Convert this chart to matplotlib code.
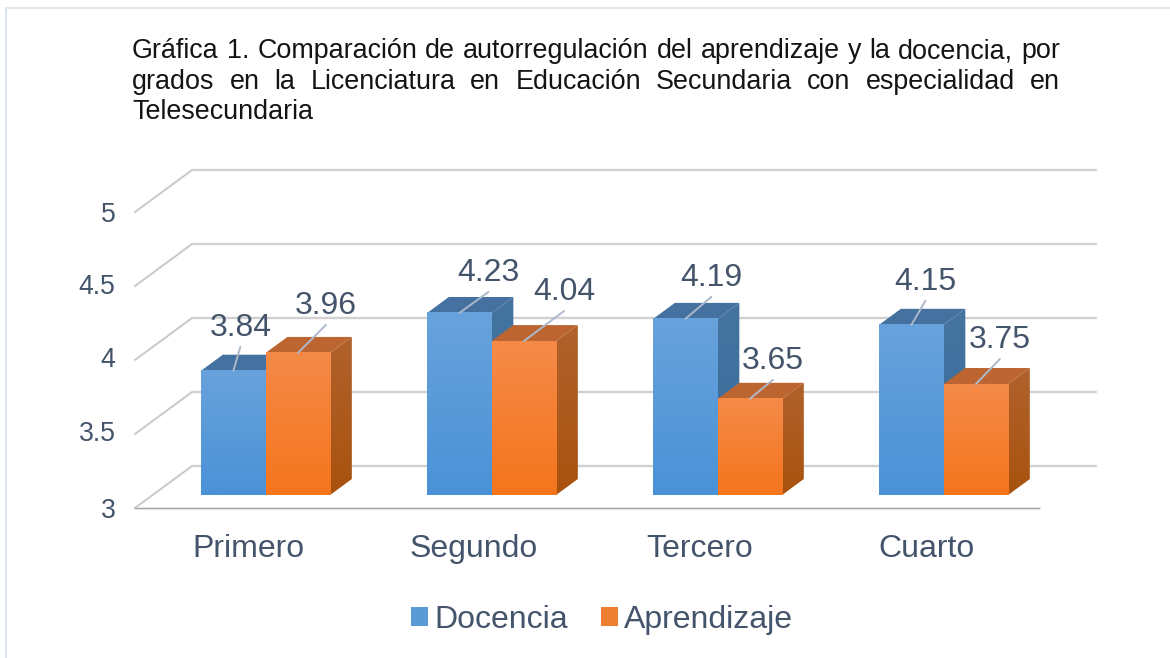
import matplotlib
matplotlib.use("Agg")
import matplotlib.pyplot as plt
from matplotlib.lines import Line2D
from matplotlib.patches import Patch, Polygon
from matplotlib.transforms import ScaledTranslation
import numpy as np

plt.rcParams["font.family"] = ["Liberation Sans", "DejaVu Sans"]

grados = ["Primero", "Segundo", "Tercero", "Cuarto"]
docencia = [3.84, 4.23, 4.19, 4.15]
aprendizaje = [3.96, 4.04, 3.65, 3.75]
y_ticks = [3, 3.5, 4, 4.5, 5]
y_labels = ["3", "3.5", "4", "4.5", "5"]
titulo = [
    "Gráfica 1. Comparación de autorregulación del aprendizaje y la docencia, por",
    "grados en la Licenciatura en Educación Secundaria con especialidad en",
    "Telesecundaria",
]

W, H = 1170, 658
TXT = "#44546a"
# profundidad del piso 3D, en unidades de datos
DX = 57 / 226
DY = 42 / 148
BAR_W = 64.5 / 226
F0, F1 = 0.31, 0.69


def pt(x, y, d):
    return (x + DX * d, y + DY * d)


def rgb(c):
    return np.array(matplotlib.colors.to_rgb(c))


def gradiente(arriba, abajo):
    t = np.linspace(0, 1, 64).reshape(-1, 1, 1)
    return rgb(arriba)[None, None, :] * (1 - t) + rgb(abajo)[None, None, :] * t


fig = plt.figure(figsize=(W / 100, H / 100), dpi=100)
ax = fig.add_axes([135 / W, (H - 508) / H, 904 / W, 296 / H])
for s in ax.spines.values():
    s.set_visible(False)
ax.patch.set_alpha(0)

# marco exterior: solo arriba y a la izquierda
fig.add_artist(Line2D([6 / W, 6 / W, 1], [0, 1 - 8 / H, 1 - 8 / H], color="#dfe5ec", lw=1.5,
                      transform=fig.transFigure))

# paredes y rejilla
for v in y_ticks:
    xs = [-0.5, -0.5 + DX, 3.5 + DX]
    ys = [v, v + DY, v + DY]
    ax.plot(xs, ys, color="#ececec", lw=2.0, clip_on=False, zorder=1, solid_joinstyle="miter")
    ax.plot(xs, ys, color="#bcbcbc", lw=0.8, clip_on=False, zorder=1.1, solid_joinstyle="miter")
ax.plot([-0.5, 3.5], [3, 3], color="#e6e6e6", lw=2.0, clip_on=False, zorder=1)
ax.plot([-0.5, 3.5], [3, 3], color="#a8a8a8", lw=0.8, clip_on=False, zorder=1.1)


def barra(x0, v, frente, lado, techo, z):
    x1 = x0 + BAR_W
    lat = np.array([pt(x1, 3, F0), pt(x1, 3, F1), pt(x1, v, F1), pt(x1, v, F0)])
    sup = [pt(x0, v, F0), pt(x1, v, F0), pt(x1, v, F1), pt(x0, v, F1)]
    # cara lateral con degradado, recortada al poligono
    clip = Polygon(lat, closed=True, fc="none", ec="none", transform=ax.transData)
    ax.add_patch(clip)
    im = ax.imshow(gradiente(*lado), extent=[lat[:, 0].min(), lat[:, 0].max(), 3 + DY * F0, v + DY * F1],
                   aspect="auto", zorder=z, origin="upper", interpolation="bilinear")
    im.set_clip_path(clip)
    ax.add_patch(Polygon(sup, closed=True, fc=techo, ec="none", zorder=z, clip_on=False))
    # cara frontal
    fx0 = pt(x0, 3, F0)[0]
    ax.imshow(gradiente(*frente), extent=[fx0, fx0 + BAR_W, 3 + DY * F0, v + DY * F0], aspect="auto",
              zorder=z + 0.1, origin="upper", clip_on=False, interpolation="bilinear")


anchors = []
leader = [(7, 24), (28, 28), (29, 21), (40, 30), (26, 22), (23, 19), (14, 24), (24, 25)]
for i in range(len(grados)):
    xa = i - BAR_W
    xb = i
    barra(xa, docencia[i], ("#68a2dc", "#4a92d6"), ("#44749f", "#3a6a9c"), "#44719f", 3 + i)
    barra(xb, aprendizaje[i], ("#f48a48", "#f5751c"), ("#b0622c", "#a9520f"), "#bd6531", 3.3 + i)
    anchors.append(pt(xa + BAR_W / 2, docencia[i], F0))
    anchors.append(pt(xb + BAR_W / 2, aprendizaje[i], F0))

valores = [v for par in zip(docencia, aprendizaje) for v in par]
for (ax_x, ax_y), v, (dx, dy) in zip(anchors, valores, leader):
    ax.annotate("", xy=(ax_x, ax_y), xytext=(dx, dy), textcoords="offset pixels",
                arrowprops=dict(arrowstyle="-", color="#adb9ca", lw=1.4, shrinkA=0, shrinkB=0),
                zorder=20)
    ax.annotate(f"{v:.2f}", xy=(ax_x, ax_y), xytext=(dx, dy + 19), textcoords="offset pixels",
                ha="center", va="center", fontsize=23, color=TXT, zorder=21)

ax.set_xlim(-0.5, 3.5)
ax.set_ylim(3, 5)
ax.set_xticks(range(len(grados)), grados, fontsize=23, color=TXT)
ax.set_yticks(y_ticks, y_labels, fontsize=19.2, color=TXT)
ax.tick_params(axis="both", length=0)
ax.tick_params(axis="x", pad=19)
ax.tick_params(axis="y", pad=14)
# las etiquetas del eje y no caen justo en la rejilla
for lab, off in zip(ax.get_yticklabels(), [0, 3, 3, 1.5, 0]):
    lab.set_transform(lab.get_transform() + ScaledTranslation(0, off / 100, fig.dpi_scale_trans))

handles = [Patch(fc="#5b9bd5", label="Docencia"), Patch(fc="#ed7d31", label="Aprendizaje")]
fig.legend(handles=handles, loc="center", bbox_to_anchor=(602 / W, 1 - 620 / H), ncol=2, frameon=False,
           fontsize=23, labelcolor=TXT, handlelength=0.53, handleheight=0.53, handletextpad=0.2,
           columnspacing=1.05)

# titulo justificado, palabra por palabra
rend = fig.canvas.get_renderer()
X0, X1 = 132, 1060
for n, (linea, yy) in enumerate(zip(titulo, [58, 89, 119])):
    palabras = linea.split(" ")
    textos = [fig.text(0, 1 - yy / H, p, fontsize=19.4, color="#141414", va="baseline") for p in palabras]
    anchos = [t.get_window_extent(rend).width for t in textos]
    if n < 2:
        hueco = (X1 - X0 - sum(anchos)) / (len(palabras) - 1)
    else:
        hueco = 7
    x = X0
    for t, a in zip(textos, anchos):
        t.set_x(x / W)
        x += a + hueco

fig.savefig("out.png", dpi=100)
